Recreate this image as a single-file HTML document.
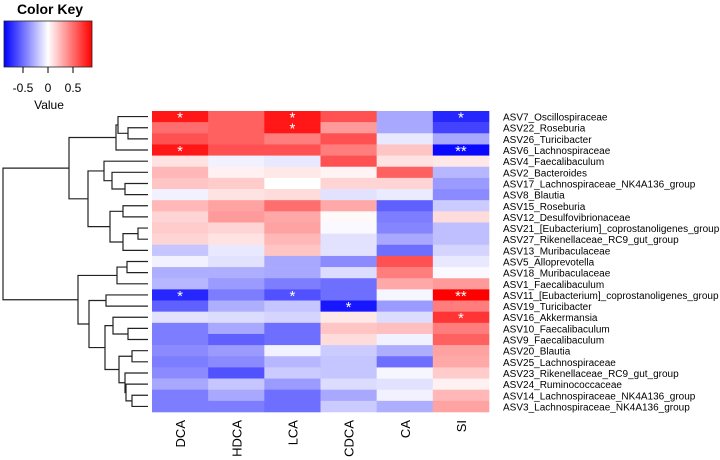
<!DOCTYPE html>
<html><head><meta charset="utf-8"><style>
html,body{margin:0;padding:0;background:#fff;}
svg{display:block;font-family:"Liberation Sans",Arial,sans-serif;}
</style></head><body>
<svg id="chart" width="720" height="460" viewBox="0 0 720 460"></svg>
<script>
const columns = ["DCA","HDCA","LCA","CDCA","CA","SI"];
const rowLabels = ["ASV7_Oscillospiraceae","ASV22_Roseburia","ASV26_Turicibacter","ASV6_Lachnospiraceae","ASV4_Faecalibaculum","ASV2_Bacteroides","ASV17_Lachnospiraceae_NK4A136_group","ASV8_Blautia","ASV15_Roseburia","ASV12_Desulfovibrionaceae","ASV21_[Eubacterium]_coprostanoligenes_group","ASV27_Rikenellaceae_RC9_gut_group","ASV13_Muribaculaceae","ASV5_Alloprevotella","ASV18_Muribaculaceae","ASV1_Faecalibaculum","ASV11_[Eubacterium]_coprostanoligenes_group","ASV19_Turicibacter","ASV16_Akkermansia","ASV10_Faecalibaculum","ASV9_Faecalibaculum","ASV20_Blautia","ASV25_Lachnospiraceae","ASV23_Rikenellaceae_RC9_gut_group","ASV24_Ruminococcaceae","ASV14_Lachnospiraceae_NK4A136_group","ASV3_Lachnospiraceae_NK4A136_group"];
const values = [
[0.8,0.55,0.8,0.6,-0.3,-0.75],
[0.5,0.55,0.8,0.35,-0.3,-0.65],
[0.6,0.55,0.45,0.6,-0.08,-0.3],
[0.8,0.6,0.6,0.45,0.2,-0.85],
[0.1,-0.05,-0.08,0.6,0.1,0.08],
[0.25,0.05,0.08,0.04,0.55,-0.25],
[0.2,0.18,0.0,0.15,0.15,-0.35],
[-0.05,0.1,0.12,-0.1,-0.07,-0.4],
[0.25,0.32,0.5,0.3,-0.55,-0.18],
[0.15,0.35,0.3,0.02,-0.45,0.12],
[0.18,0.15,0.32,-0.02,-0.42,-0.22],
[0.15,0.1,0.25,-0.1,-0.3,-0.22],
[-0.2,-0.08,0.2,-0.1,-0.5,-0.15],
[-0.05,-0.1,-0.3,-0.4,0.6,-0.08],
[-0.28,-0.28,-0.3,-0.12,0.45,-0.02],
[-0.25,-0.35,-0.45,-0.5,0.3,0.35],
[-0.75,-0.45,-0.6,-0.5,-0.03,0.88],
[-0.55,-0.28,-0.2,-0.8,-0.35,0.45],
[-0.1,-0.12,-0.15,0.08,-0.12,0.7],
[-0.45,-0.3,-0.5,0.2,0.22,0.45],
[-0.45,-0.55,-0.5,0.12,-0.05,0.55],
[-0.4,-0.35,-0.05,-0.18,-0.28,0.32],
[-0.45,-0.4,-0.25,-0.2,-0.5,0.3],
[-0.4,-0.6,-0.18,-0.2,-0.03,0.18],
[-0.3,-0.2,-0.35,-0.12,-0.1,0.05],
[-0.45,-0.3,-0.5,-0.3,-0.05,0.25],
[-0.45,-0.45,-0.5,-0.18,-0.28,0.32]];
const stars = [[0,0,"*"],[0,2,"*"],[0,5,"*"],[1,2,"*"],[3,0,"*"],[3,5,"**"],[16,0,"*"],[16,2,"*"],[16,5,"**"],[17,3,"*"],[18,5,"*"]];
const merges = [
[1,2,128],[0,"n0",118],["n1",3,116],
[6,7,125],[5,"n3",112],[4,"n4",104],
[8,9,123],[10,11,138],["n7",12,123],["n6","n8",110],["n5","n9",88],["n2","n10",69],
[13,14,127],["n12",15,117],[16,17,106],[19,20,128],[18,"n15",113],
[21,22,132],[25,26,132],[24,"n18",126],[23,"n19",125],["n17","n20",119],["n16","n21",105],["n14","n22",89],["n13","n23",78],["n11","n24",3]];

const NS="http://www.w3.org/2000/svg";
const svg=document.getElementById('chart');
function mk(tag,attrs,parent){const e=document.createElementNS(NS,tag);for(const k in attrs)e.setAttribute(k,attrs[k]);(parent||svg).appendChild(e);return e;}
const X0=152,X1=489,Y0=111,Y1=412;
const cw=(X1-X0)/columns.length, rh=(Y1-Y0)/rowLabels.length;
const VMAX=0.88;
function color(v){let t=Math.max(-1,Math.min(1,v/VMAX));
 if(t>=0){const c=Math.round(255*(1-t));return `rgb(255,${c},${c})`;}
 const c=Math.round(255*(1+t));return `rgb(${c},${c},255)`;}
function xPos(i){return X0+i*cw;}
function yPos(j){return Y0+j*rh;}

const cells=mk('g',{});


values.forEach((row,j)=>row.forEach((v,i)=>{
 const r=mk('rect',{x:xPos(i),y:yPos(j),width:cw+0.3,height:rh+0.3,fill:color(v)},cells);
 
 
}));
stars.forEach(s=>{
 const t=mk('text',{x:xPos(s[1])+cw/2,y:yPos(s[0])+rh/2+6,'text-anchor':'middle','font-size':'15',fill:'#fff'},cells);
 t.textContent=s[2];
 
 
});
rowLabels.forEach((l,j)=>{
 const t=mk('text',{x:503,y:yPos(j)+rh/2+4,'font-size':'10',fill:'#000'});
 t.textContent=l;
 
 
});
columns.forEach((c,i)=>{
 const cx=xPos(i)+cw/2+5;
 const t=mk('text',{x:cx,y:420,'font-size':'13','text-anchor':'end',transform:`rotate(-90 ${cx} 420)`,fill:'#000'});
 t.textContent=c;
 
 
});
const dg=mk('g',{stroke:'#222','stroke-width':'1.2',fill:'none'});


const LEAFX=148; const nodes=[];
function info(n){if(typeof n==='number')return {x:LEAFX,y:yPos(n)+rh/2};return nodes[+n.slice(1)];}
merges.forEach(m=>{
 const a=info(m[0]),b=info(m[1]),h=m[2];
 mk('path',{d:`M${a.x},${a.y}H${h}V${b.y}H${b.x}`},dg);
 nodes.push({x:h,y:(a.y+b.y)/2});
});
const key=mk('g',{});


const title=mk('text',{x:50,y:14,'font-size':'14','font-weight':'bold','text-anchor':'middle'},key);
title.textContent='Color Key';
const defs=mk('defs',{});
const lg=mk('linearGradient',{id:'kg',x1:0,x2:1,y1:0,y2:0},defs);
[[0,'#0000ff'],[0.5,'#ffffff'],[1,'#ff0000']].forEach(s=>mk('stop',{offset:s[0],'stop-color':s[1]},lg));
mk('rect',{x:4,y:21,width:88,height:46,fill:'url(#kg)',stroke:'#222','stroke-width':'0.8'},key);
const kx=v=>48+v*50;
[[-0.5,'-0.5'],[0,'0'],[0.5,'0.5']].forEach(t=>{
 mk('line',{x1:kx(t[0]),x2:kx(t[0]),y1:67,y2:73,stroke:'#000'},key);
 const tx=mk('text',{x:kx(t[0]),y:92,'font-size':'12','text-anchor':'middle'},key);
 tx.textContent=t[1];
});
const vl=mk('text',{x:49,y:109,'font-size':'12','text-anchor':'middle'},key);
vl.textContent='Value';
</script>
</body></html>
